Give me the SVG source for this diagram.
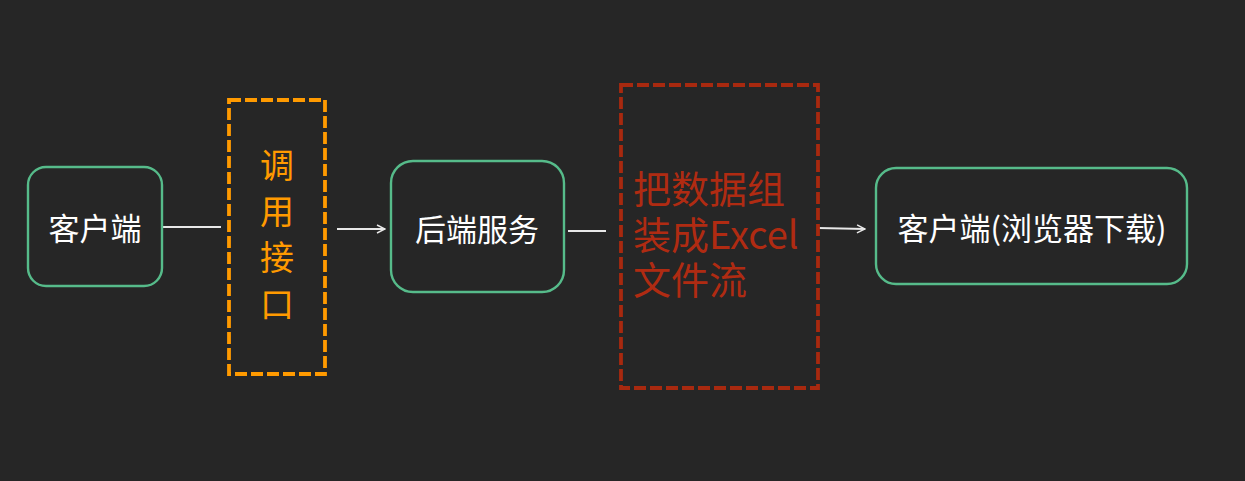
<svg xmlns="http://www.w3.org/2000/svg" width="1245" height="481" viewBox="0 0 1245 481">
<style>
.node{fill:none;stroke:#56bb8a;stroke-width:2.4}
.lbl{font-family:"Noto Sans CJK SC","Noto Sans",sans-serif;font-size:31px;fill:#ffffff;text-anchor:middle}
.conn{stroke:#e8e8e8;stroke-width:1.8;fill:none}
.dash-o{fill:none;stroke:#ff9a00;stroke-width:3.8;stroke-dasharray:12,4}
.dash-r{fill:none;stroke:#a8290f;stroke-width:3.8;stroke-dasharray:12,4}
.otxt{font-family:"Noto Sans CJK SC","Noto Sans",sans-serif;font-size:34px;fill:#ff9a00;text-anchor:middle}
.rtxt{font-family:"Noto Sans CJK SC","Noto Sans",sans-serif;font-size:38px;fill:#b02b12}
</style>
<defs>
<marker id="arr" viewBox="0 0 10 10" refX="9" refY="5" markerWidth="10" markerHeight="10" markerUnits="userSpaceOnUse" orient="auto">
<path d="M1,1 L9,5 L1,9" fill="none" stroke="#e8e8e8" stroke-width="1.5"/>
</marker>
</defs>
<rect width="1245" height="481" fill="#262626"/>
<g id="connectors">
<line class="conn" x1="163" y1="227" x2="221" y2="227"/>
<line class="conn" x1="337" y1="229" x2="385" y2="229" marker-end="url(#arr)"/>
<line class="conn" x1="568" y1="231" x2="606" y2="231"/>
<line class="conn" x1="818" y1="228" x2="865" y2="229" marker-end="url(#arr)"/>
</g>
<g id="client">
<rect class="node" x="28" y="167" width="134" height="119" rx="18"/>
<text class="lbl" x="95" y="240">客户端</text>
</g>
<g id="api">
<rect class="dash-o" x="229" y="100" width="96" height="274"/>
<text class="otxt" x="277"><tspan x="277" y="178">调</tspan><tspan x="277" y="224">用</tspan><tspan x="277" y="270">接</tspan><tspan x="277" y="317">口</tspan></text>
</g>
<g id="backend">
<rect class="node" x="391" y="161" width="173" height="131" rx="22"/>
<text class="lbl" x="477" y="241">后端服务</text>
</g>
<g id="excel">
<rect class="dash-r" x="621" y="85" width="197" height="303"/>
<text class="rtxt" x="633"><tspan x="633" y="203">把数据组</tspan><tspan x="633" y="249">装成Excel</tspan><tspan x="633" y="294">文件流</tspan></text>
</g>
<g id="download">
<rect class="node" x="876" y="168" width="311" height="116" rx="20"/>
<text class="lbl" x="1032" y="240">客户端(浏览器下载)</text>
</g>
</svg>
